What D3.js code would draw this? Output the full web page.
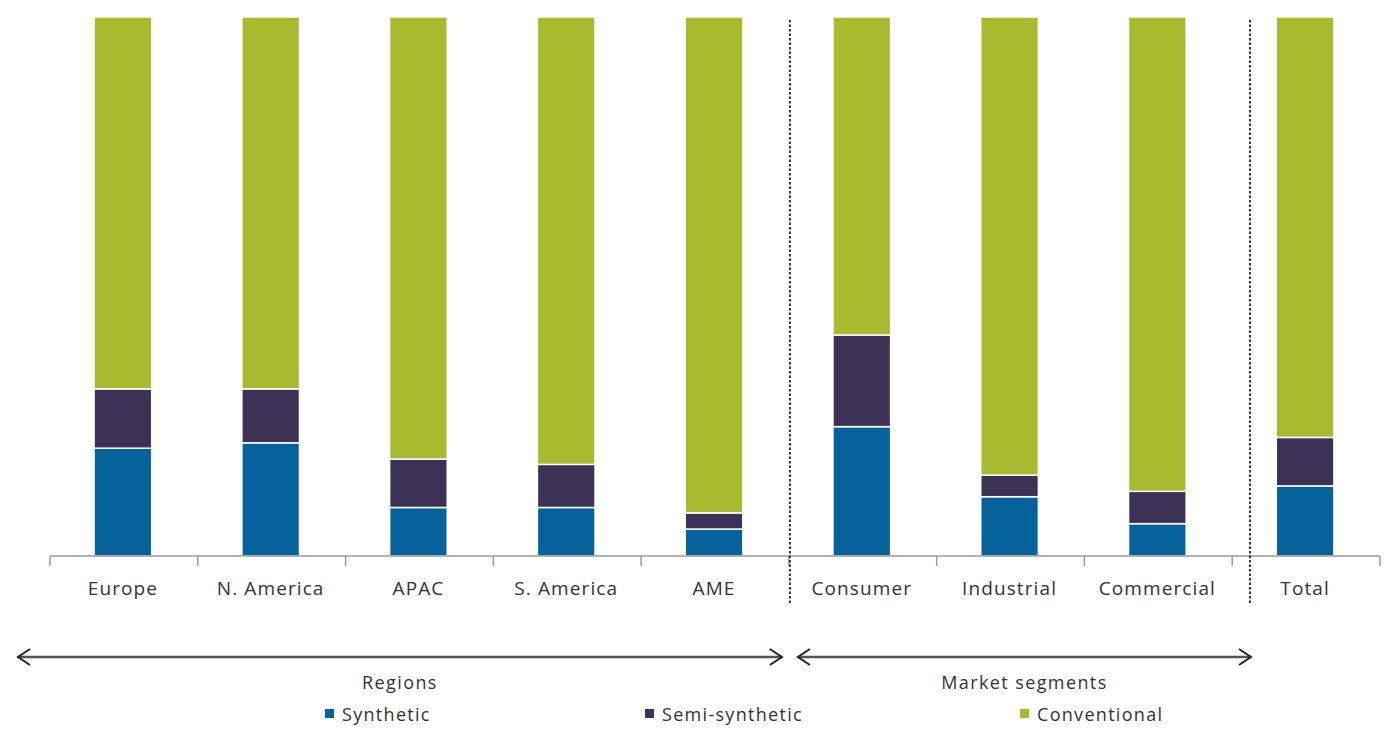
<!DOCTYPE html>
<html>
<head>
<meta charset="utf-8">
<script src="https://cdn.jsdelivr.net/npm/d3@7"></script>
<style>
  html, body { margin: 0; padding: 0; background: #fff; }
  svg { display: block; }
  text { font-family: "Open Sans", "DejaVu Sans", sans-serif; fill: #333; }
</style>
</head>
<body>
<svg id="chart" width="1384" height="736"></svg>
<script>
// Share of each lubricant type (%), by region, by market segment and overall
const categories = ["Europe", "N. America", "APAC", "S. America", "AME", "Consumer", "Industrial", "Commercial", "Total"];
const synthetic     = [20, 21, 9, 9, 5, 24, 11, 6, 13];
const semiSynthetic = [11, 10, 9, 8, 3, 17, 4, 6, 9];
const conventional  = [69, 69, 82, 83, 92, 59, 85, 88, 78];

const seriesNames  = ["Synthetic", "Semi-synthetic", "Conventional"];
const seriesColors = ["#05629a", "#3e3156", "#a8bb2e"];

const groupLabels = ["Regions", "Market segments"];

const rows = categories.map((c, i) => ({
  category: c,
  "Synthetic": synthetic[i],
  "Semi-synthetic": semiSynthetic[i],
  "Conventional": conventional[i]
}));

const svg = d3.select("#chart");

const x = d3.scaleBand().domain(categories).range([50, 1380]).padding(0);
const y = d3.scaleLinear().domain([0, 100]).range([556, 17]);
const color = d3.scaleOrdinal().domain(seriesNames).range(seriesColors);

const barFrac = 0.39;
const barW = x.bandwidth() * barFrac;
const barOffset = (x.bandwidth() - barW) / 2 - 1;

const stacked = d3.stack().keys(seriesNames)(rows);

// stacked bars
svg.append("g")
  .selectAll("g")
  .data(stacked)
  .join("g")
    .attr("fill", d => color(d.key))
  .selectAll("rect")
  .data(d => d)
  .join("rect")
    .attr("x", d => x(d.data.category) + barOffset)
    .attr("y", d => y(d[1]))
    .attr("width", barW)
    .attr("height", d => y(d[0]) - y(d[1]))
    .attr("stroke", "#ffffff")
    .attr("stroke-width", 1.5);

// category axis: baseline with ticks at the band boundaries
const axisG = svg.append("g").attr("transform", `translate(0,${y(0)})`);
axisG.append("line")
  .attr("x1", x.range()[0]).attr("x2", x.range()[1])
  .attr("stroke", "#9a9a9a").attr("stroke-width", 1.5);
const edges = categories.map(c => x(c)).concat([x.range()[1]]);
axisG.selectAll("line.tick")
  .data(edges)
  .join("line")
    .attr("class", "tick")
    .attr("x1", d => d).attr("x2", d => d)
    .attr("y1", 0).attr("y2", 10)
    .attr("stroke", "#9a9a9a").attr("stroke-width", 1.5);
axisG.selectAll("text")
  .data(categories)
  .join("text")
    .attr("x", d => x(d) + x.bandwidth() / 2 - 1)
    .attr("y", 39)
    .attr("text-anchor", "middle")
    .attr("font-size", 19)
    .attr("letter-spacing", 1.1)
    .text(d => d);

// dotted separators between regions, segments and total
const sep1 = x("Consumer") + 1;
const sep2 = x("Total") + x.bandwidth() * 0.12;
svg.selectAll("line.sep")
  .data([sep1, sep2])
  .join("line")
    .attr("class", "sep")
    .attr("x1", d => d).attr("x2", d => d)
    .attr("y1", 20).attr("y2", 605)
    .attr("stroke", "#333")
    .attr("stroke-width", 2)
    .attr("stroke-dasharray", "2.5,2");

// group arrows
const arrowY = 657;
const arrows = [
  { x1: 18, x2: sep1 - 8, label: groupLabels[0] },
  { x1: sep1 + 8, x2: sep2 + 1, label: groupLabels[1] }
];
const arrowG = svg.append("g");
arrows.forEach(a => {
  arrowG.append("line")
    .attr("x1", a.x1).attr("x2", a.x2)
    .attr("y1", arrowY).attr("y2", arrowY)
    .attr("stroke", "#555").attr("stroke-width", 2.5);
  arrowG.append("path")
    .attr("d", `M${a.x1 + 12},${arrowY - 8} L${a.x1},${arrowY} L${a.x1 + 12},${arrowY + 8}`)
    .attr("fill", "none").attr("stroke", "#222").attr("stroke-width", 2);
  arrowG.append("path")
    .attr("d", `M${a.x2 - 12},${arrowY - 8} L${a.x2},${arrowY} L${a.x2 - 12},${arrowY + 8}`)
    .attr("fill", "none").attr("stroke", "#222").attr("stroke-width", 2);
  arrowG.append("text")
    .attr("x", (a.x1 + a.x2) / 2)
    .attr("y", 689)
    .attr("text-anchor", "middle")
    .attr("font-size", 18)
    .attr("letter-spacing", 1.4)
    .text(a.label);
});

// legend
const legendX = [325, 645, 1020];
const legend = svg.append("g")
  .selectAll("g")
  .data(seriesNames)
  .join("g")
    .attr("transform", (d, i) => `translate(${legendX[i]},709)`);
legend.append("rect")
  .attr("width", 9).attr("height", 9)
  .attr("fill", d => color(d));
legend.append("text")
  .attr("x", 17).attr("y", 12)
  .attr("font-size", 18)
  .attr("letter-spacing", 1.3)
  .text(d => d);
</script>
</body>
</html>
